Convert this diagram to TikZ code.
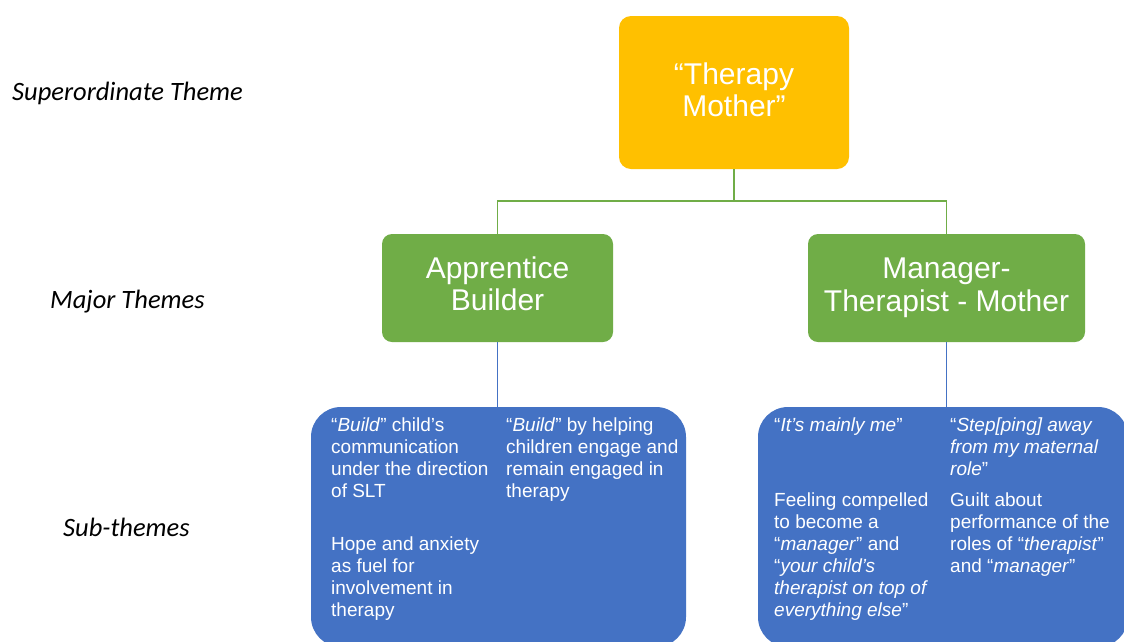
\documentclass[tikz,border=0pt]{standalone}
\usepackage{fontspec}
\setmainfont{Liberation Sans}
\newfontfamily\labelfont{Carlito}
\definecolor{gold}{HTML}{FFC000}
\definecolor{leaf}{HTML}{70AD47}
\definecolor{steel}{HTML}{4472C4}
\begin{document}
\begin{tikzpicture}[x=1pt,y=-1pt,
  topbox/.style={fill=gold,rounded corners=12pt,minimum width=230pt,minimum height=153pt,inner sep=0pt},
  majorbox/.style={fill=leaf,rounded corners=10pt,minimum height=108pt,inner sep=0pt},
  boxtitle/.style={text=white,align=center,inner sep=0pt,font=\fontsize{30}{32.5}\selectfont},
  subbox/.style={fill=steel,rounded corners=30pt,minimum height=240pt,inner sep=0pt},
  subtext/.style={anchor=north west,text=white,align=left,inner sep=0pt,
    font=\fontsize{19}{22}\selectfont},
  sidelabel/.style={anchor=west,inner sep=0pt,font=\labelfont\itshape\fontsize{26.5}{30}\selectfont},
  gline/.style={draw=leaf,line width=1.6pt},
  bline/.style={draw=steel,line width=1.3pt}]
\clip (0,0) rectangle (1124,641);
\fill[white] (0,0) rectangle (1124,641);

% side labels
\node[sidelabel] (lsup) at (12,93.5) {Superordinate Theme};
\node[sidelabel] (lmaj) at (50,302) {Major Themes};
\node[sidelabel] (lsub) at (63,527.5) {Sub-themes};

% theme boxes
\node[topbox] (top) at (734,92.5) {};
\node[boxtitle,yshift=2.5pt] (topt) at (top.center) {“Therapy\\Mother”};
\node[majorbox,minimum width=231pt] (app) at (497.5,288) {};
\node[boxtitle,yshift=4pt] (appt) at (app.center) {Apprentice\\Builder};
\node[majorbox,minimum width=277pt] (man) at (946.5,288) {};
\node[boxtitle] (mant) at (man.center) {Manager-\\Therapist - Mother};
\node[subbox,minimum width=375pt] (lb) at (498.5,527) {};
\node[subbox,minimum width=370pt] (rb) at (943,527) {};

% connectors
\draw[gline] (top.south) -- ++(0,32) coordinate (split) -| (app.north);
\draw[gline] (split) -| (man.north);
\draw[bline] (app.south) -- (app.south |- lb.north);
\draw[bline] (man.south) -- (man.south |- rb.north);

% sub-themes of the apprentice builder
\node[subtext] (a1) at (331,418) {“\textit{Build}” child’s\\communication\\under the direction\\of SLT};
\node[subtext] (a2) at (331,537) {Hope and anxiety\\as fuel for\\involvement in\\therapy};
\node[subtext] (a3) at (506,418) {“\textit{Build}” by helping\\children engage and\\remain engaged in\\therapy};

% sub-themes of the manager-therapist-mother
\node[subtext] (m1) at (774,418) {“\textit{It’s mainly me}”};
\node[subtext] (m2) at (774,493) {Feeling compelled\\to become a\\“\textit{manager}” and\\“\textit{your child’s}\\\textit{therapist on top of}\\\textit{everything else}”};
\node[subtext] (m3) at (950,418) {“\textit{Step[ping] away}\\\textit{from my maternal}\\\textit{role}”};
\node[subtext] (m4) at (950,493) {Guilt about\\performance of the\\roles of “\textit{therapist}”\\and “\textit{manager}”};
\end{tikzpicture}
\end{document}
